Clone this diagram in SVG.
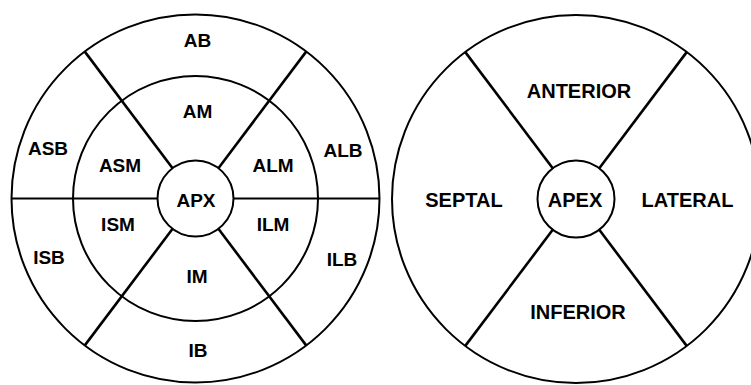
<svg xmlns="http://www.w3.org/2000/svg" width="751" height="385" viewBox="0 0 751 385">
<style>
.c{fill:none;stroke:#000;stroke-width:2}
.l{stroke:#000;stroke-width:2.6;stroke-linecap:butt}
.h{stroke:#000;stroke-width:1.8}
text{font-family:"Liberation Sans",Arial,sans-serif;font-weight:bold;text-anchor:middle;fill:#000}
.s{font-size:19px}
.b{font-size:20px}
</style>
<rect width="751" height="385" fill="#fff"/>
<g id="left-bullseye">
<circle id="left-outer" class="c" cx="195.5" cy="198.5" r="184"/>
<circle id="left-mid" class="c" cx="195.5" cy="198.5" r="122.5"/>
</g>
<g id="right-bullseye">
<circle id="right-outer" class="c" cx="576" cy="199" r="184"/>
</g>
<g id="connectors">
<line class="l" x1="84.8" y1="51.6" x2="172.6" y2="168.2"/>
<line class="l" x1="306.2" y1="51.6" x2="218.4" y2="168.2"/>
<line class="l" x1="84.8" y1="345.4" x2="172.6" y2="228.8"/>
<line class="l" x1="306.2" y1="345.4" x2="218.4" y2="228.8"/>
<line class="h" x1="11.5" y1="198.5" x2="157.5" y2="198.5"/>
<line class="h" x1="233.5" y1="198.5" x2="379.5" y2="198.5"/>
<line class="l" x1="465.3" y1="52.1" x2="553.1" y2="168.7"/>
<line class="l" x1="686.7" y1="52.1" x2="598.9" y2="168.7"/>
<line class="l" x1="465.3" y1="345.9" x2="553.1" y2="229.3"/>
<line class="l" x1="686.7" y1="345.9" x2="598.9" y2="229.3"/>
</g>
<g id="APX"><circle class="c" cx="195.5" cy="198.5" r="38"/><text class="s" x="196" y="207">APX</text></g>
<g id="AB"><text class="s" x="197.5" y="47">AB</text></g>
<g id="AM"><text class="s" x="197.5" y="118">AM</text></g>
<g id="ASB"><text class="s" x="48" y="155">ASB</text></g>
<g id="ASM"><text class="s" x="120" y="172">ASM</text></g>
<g id="ALM"><text class="s" x="273" y="172">ALM</text></g>
<g id="ALB"><text class="s" x="343" y="157">ALB</text></g>
<g id="ISM"><text class="s" x="118" y="231">ISM</text></g>
<g id="ILM"><text class="s" x="273" y="231">ILM</text></g>
<g id="ISB"><text class="s" x="49" y="264">ISB</text></g>
<g id="ILB"><text class="s" x="342" y="266">ILB</text></g>
<g id="IM"><text class="s" x="197" y="283">IM</text></g>
<g id="IB"><text class="s" x="198" y="357">IB</text></g>
<g id="APEX"><circle class="c" cx="576" cy="199" r="38.5"/><text class="b" x="575" y="207">APEX</text></g>
<g id="ANTERIOR"><text class="b" x="579" y="98">ANTERIOR</text></g>
<g id="SEPTAL"><text class="b" x="464" y="207">SEPTAL</text></g>
<g id="LATERAL"><text class="b" x="687.5" y="207">LATERAL</text></g>
<g id="INFERIOR"><text class="b" x="578" y="319">INFERIOR</text></g>
</svg>
